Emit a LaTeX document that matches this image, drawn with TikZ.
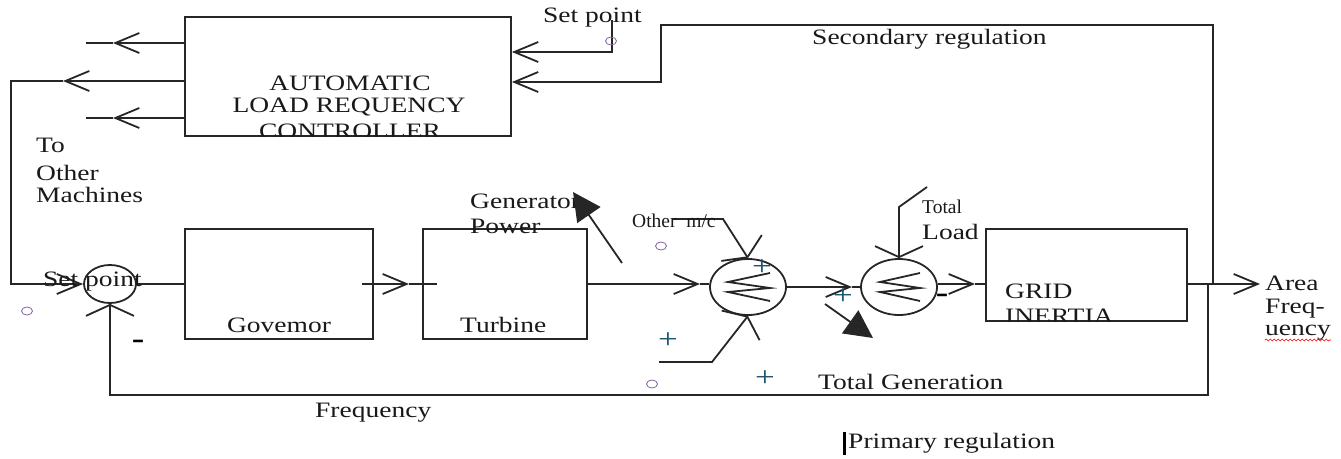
\documentclass[tikz,border=0pt]{standalone}
\usepackage{fontspec}
\setmainfont{Liberation Serif}[FakeStretch=1.25]
\newfontfamily\narrowfont{Liberation Serif}
\usetikzlibrary{arrows.meta,shapes.geometric,decorations.pathmorphing}
\definecolor{pluscol}{RGB}{30,85,115}
\definecolor{ocol}{RGB}{130,95,165}
\newcommand\mainsz{\fontsize{22}{23}\selectfont}
\tikzset{
  ob/.tip={Straight Barb[length=24pt,width=20pt]},
  wb/.tip={Straight Barb[length=11pt,width=48pt]},
  fb/.tip={Triangle[length=28pt,width=28pt]},
  ln/.style={line width=1.8pt, draw=black!85},
  blk/.style={ln, rectangle, inner sep=0pt},
  sumj/.style={ln, ellipse, inner sep=0pt, minimum width=76pt, minimum height=56pt},
  lbl/.style={font=\mainsz, inner sep=0pt, anchor=base west, text=black!90},
  lblc/.style={lbl, anchor=base},
  small/.style={font=\narrowfont\fontsize{19.5}{20}\selectfont, inner sep=0pt, anchor=base west, text=black!90},
  pl/.style={font=\fontsize{28}{28}\selectfont, inner sep=0pt, text=pluscol},
  mn/.style={font=\fontsize{30}{30}\selectfont\bfseries, inner sep=0pt, text=black},
  oc/.style={draw=ocol, ellipse, line width=0.8pt, inner sep=0pt, minimum width=11pt, minimum height=8pt},
}
\begin{document}
\begin{tikzpicture}[x=1pt,y=-1pt]
\useasboundingbox (0,0) rectangle (1341,458);
% blocks
\node[blk, minimum width=326pt, minimum height=119pt] (alfc) at (348,76.5) {};
\node[blk, minimum width=188pt, minimum height=110pt] (gov) at (279,284) {};
\node[blk, minimum width=164pt, minimum height=110pt] (turb) at (505,284) {};
\node[blk, minimum width=201pt, minimum height=92pt] (grid) at (1086.5,275) {};
\node[sumj, minimum width=52pt, minimum height=38pt] (s1) at (110,284) {};
\node[sumj] (s2) at (748,287) {};
\node[sumj] (s3) at (899,287) {};
% zigzags
\draw[ln] (s2) ++(22,-14) -- ++(-42,9) -- ++(42,6) -- ++(-42,4) -- ++(42,9);
\draw[ln] (s3) ++(21,-14) -- ++(-40,9) -- ++(40,6) -- ++(-40,4) -- ++(40,9);
% block texts
\node[lblc] (t_auto) at (350,90) {AUTOMATIC};
\node[lblc] (t_load) at (349,112) {LOAD REQUENCY};
\begin{scope}
\clip (185,17) rectangle (511,136);
\node[lblc] (t_ctrl) at (350,138) {CONTROLLER};
\end{scope}
\node[lblc] (t_gov) at (279,332) {Govemor};
\node[lbl] (t_turb) at (460,332) {Turbine};
\node[lbl] (t_grid) at (1005,298) {GRID};
\begin{scope}
\clip (986,229) rectangle (1187,321);
\node[lbl] (t_iner) at (1005,323) {INERTIA};
\end{scope}
% ALFC outputs to other machines
\coordinate (e1) at (86,43); \coordinate (k1) at (113,43);
\draw[ln,-{ob}] (alfc.west |- e1) -- (k1); \draw[ln] (k1) -- (e1);
\coordinate (e3) at (86,118); \coordinate (k3) at (113,118);
\draw[ln,-{ob}] (alfc.west |- e3) -- (k3); \draw[ln] (k3) -- (e3);
\coordinate (k2) at (63,81); \coordinate (c2a) at (11,81); \coordinate (c2b) at (11,284);
\draw[ln,-{ob}] (alfc.west |- k2) -- (k2);
\draw[ln,-{ob}] (k2) -- (c2a) -- (c2b) -- (s1.west);
% frequency feedback
\coordinate (f1) at (1208,284); \coordinate (f2) at (1208,395);
\draw[ln,-{wb}] (f1) -- (f2) -- (s1.south |- f2) -- (s1.south);
% set point top
\coordinate (sp1) at (612,20); \coordinate (sp2) at (612,52);
\draw[ln,-{ob}] (sp1) -- (sp2) -- (alfc.east |- sp2);
% secondary regulation
\coordinate (q1) at (1213,284); \coordinate (q2) at (1213,25);
\coordinate (q3) at (661,25); \coordinate (q4) at (661,82);
\draw[ln,-{ob}] (q1) -- (q2) -- (q3) -- (q4) -- (alfc.east |- q4);
% forward path
\draw[ln] (s1.east) -- (gov.west);
\coordinate (g1) at (362,284); \coordinate (g2) at (409,284); \coordinate (g3) at (437,284);
\draw[ln,-{ob}] (g1) -- (g2); \draw[ln] (g2) -- (g3);
\coordinate (t2) at (700,284);
\draw[ln,-{ob}] (turb.east) -- (t2); \draw[ln] (t2) -- (s2.west |- t2);
\coordinate (u2) at (852,287);
\draw[ln,-{ob}] (s2.east) -- (u2); \draw[ln] (u2) -- (s3.west);
\coordinate (v1) at (975,284);
\draw[ln,-{ob}] (s3.east |- v1) -- (v1); \draw[ln] (v1) -- (grid.west |- v1);
\coordinate (w1) at (1260,284);
\draw[ln,-{ob}] (grid.east |- w1) -- (w1);
% junction inputs
\coordinate (m1) at (673,219); \coordinate (m2) at (723,219);
\draw[ln,-{wb}] (m1) -- (m2) -- (s2.north);
\coordinate (n1) at (659,362); \coordinate (n2) at (712,362);
\draw[ln,-{wb}] (n1) -- (n2) -- (s2.south);
\coordinate (l1) at (927,187); \coordinate (l2) at (899,207);
\draw[ln,-{wb}] (l1) -- (l2) -- (s3.north);
% labels
\node[lbl] (t_to) at (36,152) {To};
\node[lbl] (t_oth) at (36,180) {Other};
\node[lbl] (t_mach) at (36,202) {Machines};
\node[lbl] (t_sp1) at (543,22) {Set point};
\node[lbl] (t_sec) at (812,44) {Secondary regulation};
\node[lbl] (t_sp2) at (43,286) {Set point};
\node[lbl] (t_gen) at (470,208) {Generator};
\node[lbl] (t_pow) at (470,233) {Power};
\node[small] (t_omc) at (632,227) {Other\ \ m/c};
\node[small] (t_tot) at (922,213) {Total};
\node[lbl] (t_ld) at (922,239) {Load};
\node[lbl] (t_tg) at (818,389) {Total Generation};
\node[lbl] (t_fr) at (315,417) {Frequency};
\node[lbl] (t_pr) at (848,448) {Primary regulation};
\node[lbl] (t_ar) at (1265,290) {Area};
\node[lbl] (t_fq) at (1265,313) {Freq-};
\node[lbl] (t_ue) at (1265,335) {uency};
\draw[red, line width=0.6pt, decorate, decoration={snake, amplitude=1pt, segment length=4pt}] (t_ue.base west) ++(0,5) -- ++(66,0);
\fill[black] (843,432) rectangle (846,455);
% filled arrows
\coordinate (gp1) at (622,263); \coordinate (gp2) at (573,192);
\draw[ln,-{fb}] (gp1) -- (gp2);
\coordinate (tg1) at (825,304); \coordinate (tg2) at (873,338);
\draw[ln,-{fb}] (tg1) -- (tg2);
% signs
\node[pl] (p1) at (668,341) {+};
\node[pl] (p2) at (765,379) {+};
\node[pl] (p3) at (762,268) {+};
\node[pl] (p4) at (843,297) {+};
\node[mn] (m_1) at (138,344) {-};
\node[mn] (m_2) at (942,298) {-};
% small circles
\node[oc] (o1) at (27,311) {};
\node[oc] (o2) at (611,41) {};
\node[oc] (o3) at (661,246) {};
\node[oc] (o4) at (652,384) {};
\end{tikzpicture}
\end{document}
